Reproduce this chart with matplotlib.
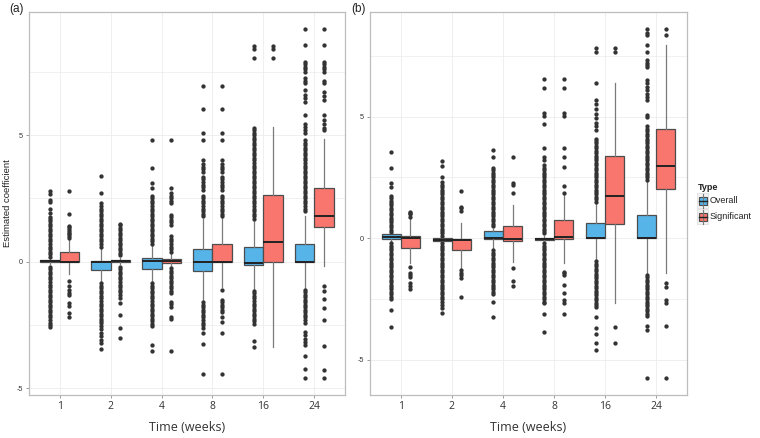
import matplotlib
matplotlib.use("Agg")
import matplotlib.pyplot as plt
from matplotlib.patches import Rectangle
from matplotlib.lines import Line2D

# ---------------- data ----------------
times = ['1', '2', '4', '8', '16', '24']
series = ['Overall', 'Significant']

# Panel (a)
a_ov_q1 = [-0.02, -0.33, -0.28, -0.36, -0.13, 0.0]
a_ov_med = [0.02, -0.02, 0.02, 0.0, -0.04, 0.0]
a_ov_q3 = [0.08, 0.02, 0.13, 0.49, 0.59, 0.72]
a_ov_lo = [-0.1, -0.79, -0.79, -1.55, -1.1, -1.05]
a_ov_hi = [0.2, 0.5, 0.66, 1.7, 1.6, 1.8]
a_ov_fliers = [
    [0.2, 0.3, 0.4, 0.5, 0.6, 0.7, 0.8, 0.9, 1.0, 1.1, 1.2, 1.3, 1.4, 1.5, 1.6, 1.7, 1.78,
     1.91, 2.1, 2.34, 2.44, 2.66, 2.79,
     -0.2, -0.3, -0.4, -0.5, -0.6, -0.7, -0.8, -0.9, -1.0, -1.1, -1.2, -1.3, -1.4, -1.5,
     -1.6, -1.7, -1.8, -1.9, -2.0, -2.1, -2.2, -2.3, -2.42, -2.5, -2.59],
    [0.6, 0.7, 0.8, 0.9, 1.0, 1.1, 1.2, 1.3, 1.4, 1.5, 1.6, 1.7, 1.8, 1.9, 2.0, 2.1, 2.2,
     2.3, 2.72, 3.38,
     -0.85, -0.95, -1.05, -1.15, -1.25, -1.35, -1.45, -1.55, -1.65, -1.75, -1.85, -1.95,
     -2.05, -2.15, -2.25, -2.35, -2.43, -2.54, -2.67, -2.8, -2.93, -3.07, -3.2, -3.45],
    [0.7, 0.8, 0.9, 1.0, 1.1, 1.2, 1.3, 1.4, 1.5, 1.6, 1.7, 1.8, 1.9, 2.0, 2.1, 2.2, 2.3,
     2.4, 2.5, 2.6, 2.9, 3.12, 3.71, 4.8,
     -0.85, -0.95, -1.05, -1.15, -1.25, -1.35, -1.45, -1.55, -1.65, -1.75, -1.85, -1.95,
     -2.05, -2.15, -2.25, -2.35, -2.45, -2.55, -3.29, -3.53],
    [1.8, 1.9, 2.0, 2.1, 2.2, 2.3, 2.4, 2.5, 2.6, 2.83, 2.95, 3.05, 3.15, 3.25, 3.35, 3.55,
     3.65, 3.75, 3.85, 4.0, 4.8, 5.07, 6.04, 6.94,
     -1.6, -1.7, -1.8, -1.9, -2.0, -2.1, -2.2, -2.3, -2.4, -2.5, -2.6, -2.83, -3.26, -4.45],
    [1.7, 1.8, 1.9, 2.0, 2.1, 2.2, 2.3, 2.4, 2.5, 2.6, 2.7, 2.8, 2.9, 3.0, 3.1, 3.2, 3.3,
     3.4, 3.5, 3.6, 3.7, 3.8, 3.9, 4.0, 4.1, 4.2, 4.3, 4.4, 4.5, 4.6, 4.7, 4.8, 4.9, 5.0,
     5.1, 5.2, 5.3, 8.03, 8.4, 8.53,
     -1.15, -1.25, -1.35, -1.45, -1.55, -1.65, -1.75, -1.85, -1.95, -2.05, -2.15, -2.25,
     -2.35, -2.45, -3.14, -3.38],
    [2.0, 2.1, 2.2, 2.3, 2.4, 2.5, 2.6, 2.7, 2.8, 2.9, 3.0, 3.1, 3.2, 3.3, 3.4, 3.5, 3.6,
     3.7, 3.8, 3.9, 4.0, 4.1, 4.2, 4.3, 4.4, 4.5, 4.6, 4.7, 4.8, 5.07, 5.2, 5.32, 5.44,
     5.79, 6.32, 6.45, 6.6, 6.78, 7.05, 7.15, 7.25, 7.5, 7.6, 7.7, 7.8, 7.9, 8.55, 9.17,
     -1.1, -1.2, -1.3, -1.4, -1.5, -1.6, -1.7, -1.8, -1.9, -2.0, -2.1, -2.2, -2.3, -2.4,
     -2.76, -2.9, -3.05, -3.17, -3.29, -3.72, -4.25, -4.6],
]
a_sig_q1 = [0.0, -0.01, -0.05, 0.0, 0.0, 1.36]
a_sig_med = [0.0, 0.02, 0.02, 0.0, 0.77, 1.8]
a_sig_q3 = [0.38, 0.07, 0.09, 0.72, 2.63, 2.9]
a_sig_lo = [-0.49, -0.1, -0.15, -0.99, -3.37, -0.18]
a_sig_hi = [0.85, 0.15, 0.3, 1.71, 5.33, 4.83]
a_sig_fliers = [
    [0.92, 1.0, 1.08, 1.15, 1.22, 1.3, 1.37, 1.42, 1.9, 2.78,
     -0.75, -0.95, -1.1, -1.22, -1.31, -1.64, -1.75, -2.04, -2.17],
    [0.25, 0.35, 0.45, 0.55, 0.65, 0.75, 0.85, 0.95, 1.05, 1.15, 1.25, 1.35, 1.45, 1.51,
     -0.2, -0.3, -0.4, -0.5, -0.6, -0.7, -0.8, -0.9, -1.0, -1.1, -1.2, -1.3, -1.45, -1.64,
     -2.1, -2.62, -3.0],
    [0.4, 0.5, 0.6, 0.7, 0.8, 0.9, 1.0, 1.45, 1.55, 1.65, 1.75, 1.84, 2.3, 2.4, 2.5, 2.6,
     2.7, 2.92, 4.8,
     -0.25, -0.35, -0.45, -0.55, -0.65, -0.75, -0.85, -0.95, -1.05, -1.15, -1.25, -1.58,
     -1.68, -1.78, -2.17, -2.27, -3.53],
    [1.8, 1.9, 2.0, 2.1, 2.2, 2.3, 2.4, 2.5, 2.6, 2.83, 2.95, 3.05, 3.15, 3.25, 3.35, 3.55,
     3.65, 3.75, 3.85, 4.0, 4.8, 5.07, 6.04, 6.94,
     -1.12, -1.5, -1.6, -1.7, -1.8, -1.9, -2.0, -2.2, -2.37, -2.83, -4.45],
    [8.03, 8.4, 8.53],
    [5.2, 5.3, 5.45, 5.6, 5.79, 6.4, 6.55, 6.7, 7.05, 7.15, 7.5, 7.6, 7.7, 7.8, 7.9, 8.55, 9.17,
     -0.95, -1.14, -1.48, -1.84, -2.3, -3.33, -4.28, -4.6],
]

# Panel (b)
b_ov_q1 = [-0.04, -0.12, -0.04, -0.08, 0.0, 0.0]
b_ov_med = [0.05, -0.05, 0.0, -0.03, 0.0, 0.0]
b_ov_q3 = [0.16, 0.0, 0.3, 0.02, 0.62, 0.96]
b_ov_lo = [-0.15, -0.15, -0.4, -0.15, -0.89, -1.44]
b_ov_hi = [0.25, 0.05, 0.4, 0.1, 1.45, 2.35]
b_ov_fliers = [
    [0.25, 0.35, 0.45, 0.55, 0.65, 0.75, 0.85, 0.95, 1.05, 1.15, 1.25, 1.35, 1.45, 1.55,
     1.65, 1.75, 2.12, 2.26, 2.88, 3.53,
     -0.2, -0.3, -0.4, -0.5, -0.6, -0.7, -0.8, -0.9, -1.0, -1.1, -1.2, -1.3, -1.4, -1.5,
     -1.6, -1.7, -1.8, -1.9, -2.0, -2.1, -2.2, -2.3, -2.4, -2.5, -2.95, -3.64],
    [0.1, 0.2, 0.3, 0.4, 0.5, 0.6, 0.7, 0.8, 0.9, 1.0, 1.1, 1.2, 1.3, 1.4, 1.5, 1.6, 1.7,
     1.8, 1.9, 2.0, 2.1, 2.2, 2.3, 2.53, 2.98, 3.18,
     -0.2, -0.3, -0.4, -0.5, -0.6, -0.7, -0.8, -0.9, -1.0, -1.1, -1.2, -1.3, -1.4, -1.5,
     -1.6, -1.7, -1.8, -1.9, -2.0, -2.1, -2.2, -2.3, -2.4, -2.5, -2.6, -2.75, -2.88, -3.08],
    [0.5, 0.6, 0.7, 0.8, 0.9, 1.0, 1.1, 1.2, 1.3, 1.4, 1.5, 1.6, 1.7, 1.8, 1.9, 2.0, 2.1,
     2.2, 2.3, 2.4, 2.5, 2.6, 2.7, 2.8, 2.9, 3.35, 3.63,
     -0.5, -0.6, -0.7, -0.8, -0.9, -1.0, -1.1, -1.2, -1.3, -1.4, -1.5, -1.6, -1.7, -1.8,
     -1.9, -2.0, -2.1, -2.2, -2.3, -2.6, -3.22],
    [0.2, 0.3, 0.4, 0.5, 0.6, 0.7, 0.8, 0.9, 1.0, 1.1, 1.2, 1.3, 1.4, 1.5, 1.6, 1.7, 1.8,
     1.9, 2.0, 2.1, 2.2, 2.3, 2.4, 2.5, 2.6, 2.7, 2.8, 2.9, 3.0, 3.22, 3.35, 3.72, 4.7,
     5.04, 5.14, 6.17, 6.54,
     -0.2, -0.3, -0.4, -0.5, -0.6, -0.7, -0.8, -0.9, -1.0, -1.1, -1.2, -1.3, -1.4, -1.5,
     -1.6, -1.7, -1.8, -1.9, -2.0, -2.1, -2.2, -2.3, -2.4, -2.5, -2.6, -2.67, -3.12, -3.84],
    [1.5, 1.6, 1.7, 1.8, 1.9, 2.0, 2.1, 2.2, 2.3, 2.4, 2.5, 2.6, 2.7, 2.8, 2.9, 3.0, 3.1,
     3.2, 3.3, 3.4, 3.5, 3.6, 3.7, 3.8, 3.9, 4.0, 4.1, 4.45, 4.6, 4.75, 4.95, 5.1, 5.3,
     5.5, 5.68, 6.37, 7.64, 7.81,
     -0.95, -1.05, -1.15, -1.25, -1.35, -1.45, -1.55, -1.65, -1.75, -1.85, -1.95, -2.05,
     -2.15, -2.25, -2.35, -2.45, -2.55, -2.65, -2.75, -2.81, -3.25, -3.67, -3.95, -4.29,
     -4.59],
    [2.4, 2.5, 2.6, 2.7, 2.8, 2.9, 3.0, 3.1, 3.2, 3.3, 3.4, 3.5, 3.6, 3.7, 3.8, 3.9, 4.0,
     4.1, 4.2, 4.3, 4.4, 4.5, 4.6, 5.0, 5.07, 5.68, 5.8, 5.95, 6.1, 6.23, 6.37, 6.51, 7.05,
     7.12, 7.19, 7.33, 7.67, 7.95, 8.36, 8.43, 8.59,
     -1.5, -1.6, -1.7, -1.8, -1.9, -2.0, -2.1, -2.2, -2.3, -2.4, -2.5, -2.6, -2.7, -2.8,
     -2.9, -3.0, -3.1, -3.2, -3.6, -3.77, -5.75],
]
b_sig_q1 = [-0.39, -0.49, -0.11, -0.03, 0.59, 2.01]
b_sig_med = [0.0, -0.07, -0.04, 0.07, 1.74, 2.98]
b_sig_q3 = [0.11, -0.02, 0.52, 0.75, 3.38, 4.48]
b_sig_lo = [-1.03, -1.23, -0.96, -1.03, -2.65, -1.44]
b_sig_hi = [0.82, 0.62, 1.37, 1.78, 6.37, 7.95]
b_sig_fliers = [
    [0.89, 0.99, 1.05, 1.09, -1.19, -1.44, -1.51, -1.6, -1.85, -1.95, -2.08],
    [1.13, 1.23, 1.3, 1.94, -1.3, -1.42, -1.52, -1.64, -2.42],
    [1.87, 2.19, 2.28, 3.35, -1.21, -1.74, -1.96],
    [1.87, 2.15, 2.94, 3.35, 3.72, 5.04, 5.14, 6.17, 6.54,
     -1.37, -1.44, -1.51, -1.92, -2.26, -2.53, -2.67, -3.12],
    [7.64, 7.81, -3.66, -4.32],
    [8.36, 8.59, -1.85, -1.99, -2.54, -2.67, -3.6, -5.75],
]

# ---------------- style ----------------
C_OV = '#56B4E9'
C_SIG = '#F8766D'
EDGE = '#4d4d4d'
WHISK = '#7a7a7a'
FLIER = '#333333'
GRID = '#ececec'
BORDER = '#bdbdbd'

W, H = 760, 438
fig = plt.figure(figsize=(W / 100, H / 100), dpi=100)
fig.patch.set_facecolor('white')


def ax_rect(l, t, r, b):
    return [l / W, 1 - b / H, (r - l) / W, (b - t) / H]


ax_a = fig.add_axes(ax_rect(29, 12, 345, 395))
ax_b = fig.add_axes(ax_rect(370, 12, 687, 395))


def stats(q1, med, q3, lo, hi, fl):
    return [dict(q1=q1[i], med=med[i], q3=q3[i], whislo=lo[i], whishi=hi[i], fliers=fl[i])
            for i in range(len(q1))]


def draw_panel(ax, ov, sig, ylim):
    pos = list(range(1, len(times) + 1))
    off = 0.1875
    for st, col, sgn in ((ov, C_OV, -1), (sig, C_SIG, 1)):
        ax.bxp(st, positions=[p + sgn * off for p in pos], widths=0.375,
               patch_artist=True, showcaps=False,
               boxprops=dict(facecolor=col, edgecolor=EDGE, linewidth=0.9),
               medianprops=dict(color='#222222', linewidth=1.4),
               whiskerprops=dict(color=WHISK, linewidth=0.9),
               flierprops=dict(marker='o', markersize=3.1, markerfacecolor=FLIER,
                               markeredgecolor=FLIER, markeredgewidth=0, linestyle='none'),
               manage_ticks=False, zorder=3)
    ax.set_xlim(0.4, len(times) + 0.6)
    ax.set_ylim(*ylim)
    ax.set_xticks(pos)
    ax.set_xticklabels(times, fontsize=7.5, family='Open Sans', color='#333333')
    ax.set_yticks([-5, 0, 5])
    ax.set_yticklabels(['-5', '0', '5'], fontsize=5.2, family='Liberation Sans', color='#333333')
    ax.set_yticks([-2.5, 2.5, 7.5], minor=True)
    ax.tick_params(axis='both', which='major', length=2.5, width=0.6, color='#8a8a8a', pad=2)
    ax.tick_params(axis='y', which='minor', length=0)
    ax.grid(True, which='major', color=GRID, linewidth=0.6, zorder=0)
    ax.grid(True, which='minor', axis='y', color=GRID, linewidth=0.5, zorder=0)
    ax.set_axisbelow(True)
    for sp in ax.spines.values():
        sp.set_color(BORDER)
        sp.set_linewidth(0.9)
    ax.set_xlabel('Time (weeks)', fontsize=9, family='Open Sans', color='#333333', labelpad=6)


draw_panel(ax_a,
           stats(a_ov_q1, a_ov_med, a_ov_q3, a_ov_lo, a_ov_hi, a_ov_fliers),
           stats(a_sig_q1, a_sig_med, a_sig_q3, a_sig_lo, a_sig_hi, a_sig_fliers),
           (-5.26, 9.86))
draw_panel(ax_b,
           stats(b_ov_q1, b_ov_med, b_ov_q3, b_ov_lo, b_ov_hi, b_ov_fliers),
           stats(b_sig_q1, b_sig_med, b_sig_q3, b_sig_lo, b_sig_hi, b_sig_fliers),
           (-6.44, 9.30))

ax_a.set_ylabel('Estimated coefficient', fontsize=6.8, family='Liberation Sans',
                color='#222222', labelpad=3)

# overlay for panel tags and legend (pixel coordinates)
ov = fig.add_axes([0, 0, 1, 1], facecolor='none')
ov.set_xlim(0, W)
ov.set_ylim(H, 0)
ov.axis('off')
ov.text(17, 9, '(a)', fontsize=8.5, family='Liberation Sans', ha='center', va='center', color='#222222')
ov.text(358, 9, '(b)', fontsize=8.5, family='Liberation Sans', ha='center', va='center', color='#222222')

ov.text(698, 187.5, 'Type', fontsize=6.5, family='Liberation Sans', fontweight='bold',
        ha='left', va='center', color='#222222')
for yc, col, lab in ((200.5, C_OV, series[0]), (216.5, C_SIG, series[1])):
    ov.add_patch(Rectangle((697, yc - 7.5), 11, 15, facecolor='#f2f2f2', edgecolor='#e0e0e0', lw=0.6))
    ov.add_line(Line2D([702.5, 702.5], [yc - 7, yc + 7], color=WHISK, lw=0.8))
    ov.add_patch(Rectangle((698.5, yc - 4), 8, 8, facecolor=col, edgecolor=EDGE, lw=0.8))
    ov.add_line(Line2D([698.5, 706.5], [yc, yc], color='#222222', lw=1.0))
    ov.text(710, yc, lab, fontsize=6.5, family='Liberation Sans', ha='left', va='center',
            color='#222222')

fig.savefig('out.png', dpi=100, facecolor='white')
